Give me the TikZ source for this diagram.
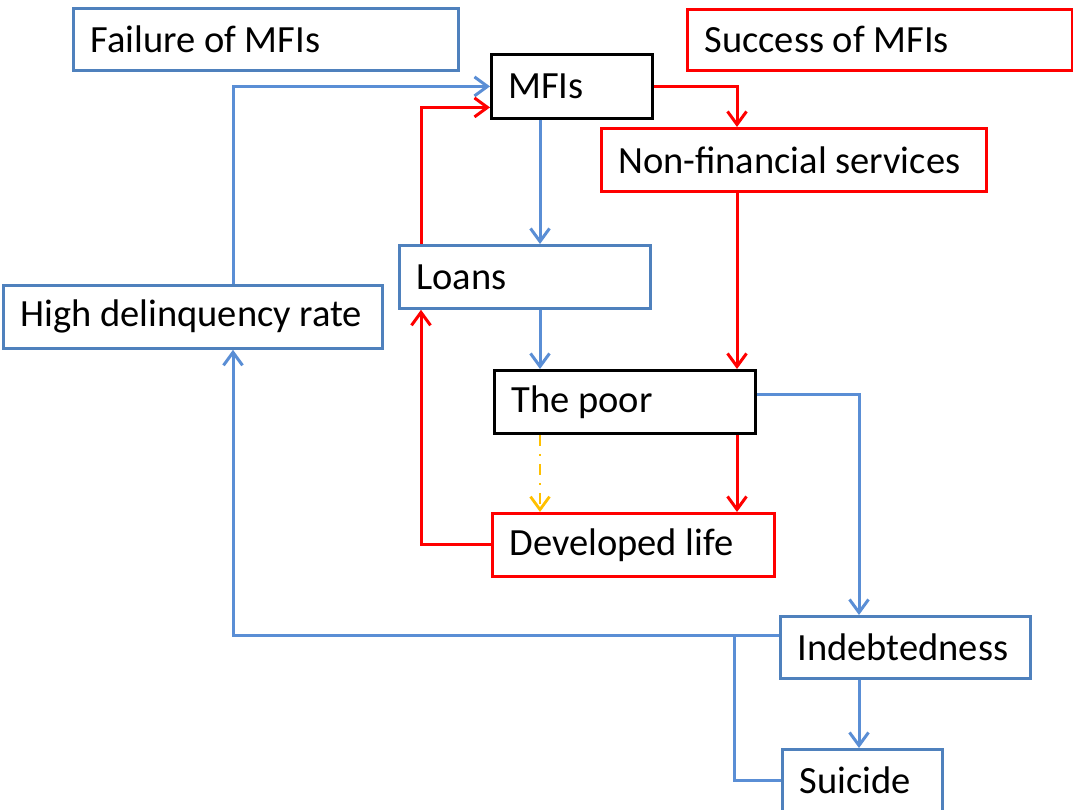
\documentclass[tikz,border=0pt]{standalone}
\usepackage{fontspec}
\setmainfont{Carlito}
\usepackage{xcolor}
\usetikzlibrary{arrows.meta}
\definecolor{mblue}{HTML}{4F81BD}
\definecolor{lblue}{HTML}{5A8ED5}
\definecolor{mred}{HTML}{FF0000}
\definecolor{morange}{HTML}{FFC000}
\tikzset{>={Straight Barb[length=13pt,width=19pt]}}
\tikzset{
  box/.style={rectangle,anchor=north west,line width=2.8pt,inner xsep=17pt,inner ysep=0pt,
    align=left,font=\fontsize{38.5}{40}\selectfont,
    execute at begin node={\spaceskip=0pt\xspaceskip=0pt\relax}},
  bbox/.style={box,draw=mblue},
  rbox/.style={box,draw=mred},
  kbox/.style={box,draw=black},
  bline/.style={lblue,line width=3pt},
  rline/.style={mred,line width=3pt},
  oline/.style={morange,line width=2.8pt,dash pattern=on 11pt off 8pt on 2pt off 8pt},
}

\begin{document}
\begin{tikzpicture}[x=1pt,y=-1pt]
  \useasboundingbox (0,0) rectangle (1073,810);
  % boxes
  \node[bbox,minimum width=385,minimum height=62,text width=351] (fail) at (72,7) {Failure of MFIs};
  \node[rbox,minimum width=385,minimum height=61,text width=351] (succ) at (686,8) {Success of MFIs};
  \node[kbox,minimum width=161,minimum height=64,text width=127] (mfi) at (490,53) {MFIs};
  \node[rbox,minimum width=385,minimum height=63,text width=351] (nfs) at (600,127) {Non-financial services};
  \node[bbox,minimum width=251,minimum height=63,text width=217] (loans) at (398,244) {Loans};
  \node[bbox,minimum width=379,minimum height=63,text width=345] (high) at (2,284) {High delinquency rate};
  \node[kbox,minimum width=261,minimum height=63,text width=227] (poor) at (493,369) {The poor};
  \node[rbox,minimum width=282,minimum height=63,text width=248] (dev) at (491,512) {Developed life};
  \node[bbox,minimum width=250,minimum height=62,text width=216] (indebt) at (779,615) {Indebtedness};
  \node[bbox,minimum width=160,minimum height=62,text width=126] (suic) at (781,748) {Suicide};
  % columns of the connectors
  \coordinate (cA) at (233,0);
  \coordinate (cB) at (421,0);
  \coordinate (cC) at (540,0);
  \coordinate (cD) at (737,0);
  \coordinate (cE) at (859,0);
  \coordinate (cF) at (734,0);
  % connectors
  \draw[bline,->] (high.north -| cA) |- (mfi.west);
  \draw[rline,->] (loans.north -| cB) |- ([yshift=-21pt]mfi.west);
  \draw[bline,->] (mfi.south -| cC) -- (loans.north -| cC);
  \draw[rline,->] (mfi.east) -| (nfs.north -| cD);
  \draw[rline,->] (nfs.south -| cD) -- (poor.north -| cD);
  \draw[bline,->] (loans.south -| cC) -- (poor.north -| cC);
  \draw[rline,->] (poor.south -| cD) -- (dev.north -| cD);
  \draw[oline,->] (poor.south -| cC) -- (dev.north -| cC);
  \draw[rline,->] (dev.west) -| (loans.south -| cB);
  \draw[bline,->] ([yshift=7pt]poor.east) -| (indebt.north -| cE);
  \draw[bline,->] ([yshift=12pt]indebt.west) -| (high.south -| cA);
  \draw[bline,->] (indebt.south -| cE) -- (suic.north -| cE);
  \draw[bline] ([yshift=12pt]indebt.west -| cF) |- (suic.west);
\end{tikzpicture}
\end{document}
